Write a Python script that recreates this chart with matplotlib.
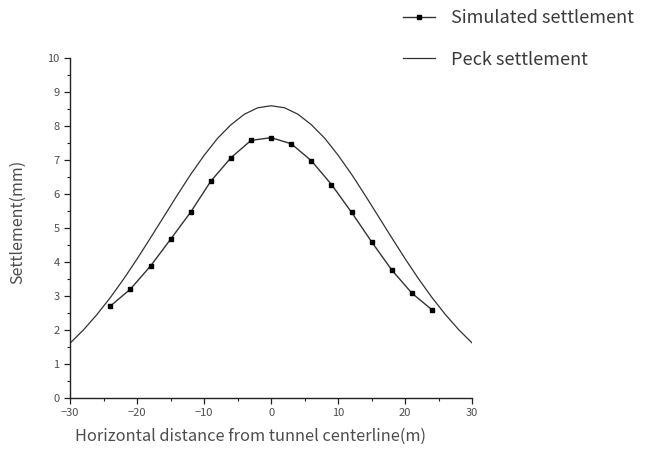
import matplotlib
matplotlib.use("Agg")
import matplotlib.pyplot as plt
from matplotlib.ticker import MultipleLocator

plt.rcParams['font.family'] = ['Noto Sans CJK SC', 'DejaVu Sans']

# simulated surface settlement (mm) along the transverse section
sim_x = [-24, -21, -18, -15, -12, -9, -6, -3, 0, 3, 6, 9, 12, 15, 18, 21, 24]
sim_y = [2.70, 3.20, 3.88, 4.67, 5.47, 6.38, 7.07, 7.58, 7.66, 7.48, 6.98,
         6.28, 5.46, 4.59, 3.76, 3.08, 2.59]

# Peck curve, read every 2 m
peck_x = [-30, -28, -26, -24, -22, -20, -18, -16, -14, -12, -10, -8, -6, -4, -2, 0,
          2, 4, 6, 8, 10, 12, 14, 16, 18, 20, 22, 24, 26, 28, 30]
peck_y = [1.61, 2.00, 2.45, 2.95, 3.50, 4.09, 4.71, 5.34, 5.97, 6.58, 7.14, 7.64,
          8.04, 8.35, 8.54, 8.60, 8.54, 8.35, 8.04, 7.64, 7.14, 6.58, 5.97, 5.34,
          4.71, 4.09, 3.50, 2.95, 2.45, 2.00, 1.61]

text_col = '#4d4d4d'
line_col = '#333333'

fig = plt.figure(figsize=(6.55, 4.62), dpi=100)
ax = fig.add_axes([0.107, 0.139, 0.614, 0.735])

l1, = ax.plot(sim_x, sim_y, color=line_col, lw=1.0, marker='s', ms=3.2,
              mfc='black', mec='black', label='Simulated settlement')
l2, = ax.plot(peck_x, peck_y, color=line_col, lw=0.9, label='Peck settlement')

ax.set_xlim(-30, 30)
ax.set_ylim(0, 10)
ax.xaxis.set_major_locator(MultipleLocator(10))
ax.xaxis.set_minor_locator(MultipleLocator(5))
ax.yaxis.set_major_locator(MultipleLocator(1))
ax.yaxis.set_minor_locator(MultipleLocator(0.5))

for side in ('top', 'right'):
    ax.spines[side].set_visible(False)
for side in ('left', 'bottom'):
    ax.spines[side].set_color('#222222')
    ax.spines[side].set_linewidth(1.0)

ax.tick_params(which='major', direction='out', length=4, width=0.9,
               colors='#222222', labelcolor=text_col, labelsize=8)
ax.tick_params(which='minor', direction='out', length=2, width=0.8,
               colors='#222222')
ax.set_xticks([-30, -20, -10, 0, 10, 20, 30])
ax.set_xticklabels(['\u221230', '\u221220', '\u221210', '0', '10', '20', '30'])

fig.text(0.382, 0.055, 'Horizontal distance from tunnel centerline(m)',
         ha='center', va='center', fontsize=11.8, color=text_col)
fig.text(0.027, 0.52, 'Settlement(mm)', rotation=90,
         ha='center', va='center', fontsize=11.5, color=text_col)

fig.legend(handles=[l1, l2], loc='upper left', bbox_to_anchor=(0.59, 1.015),
           frameon=False, fontsize=13, labelcolor='#3a3a3a',
           handlelength=1.8, handletextpad=0.9, labelspacing=1.3)

fig.savefig('out.png', dpi=100)
